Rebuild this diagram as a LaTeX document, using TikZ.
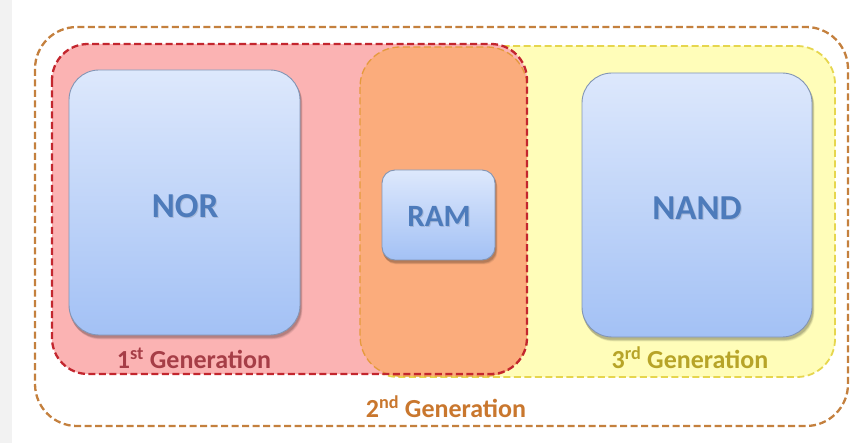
\documentclass[tikz,border=0pt]{standalone}
\usepackage{fontspec}
\setmainfont{Carlito}
\usetikzlibrary{calc}
\definecolor{outerline}{HTML}{C4803E}
\definecolor{firstfill}{HTML}{FBB3B3}
\definecolor{firstline}{HTML}{C3262E}
\definecolor{thirdfill}{HTML}{FFFDB9}
\definecolor{thirdline}{HTML}{E6D64E}
\definecolor{secondfill}{HTML}{FBAC7C}
\definecolor{secondline}{HTML}{E59A3C}
\definecolor{chiptop}{HTML}{DDE8FC}
\definecolor{chipbot}{HTML}{A3C1F5}
\definecolor{chipline}{HTML}{8295B5}
\definecolor{chiptext}{HTML}{4D7BBB}
\definecolor{firsttext}{HTML}{A63E47}
\definecolor{secondtext}{HTML}{C9772E}
\definecolor{thirdtext}{HTML}{B7A428}
\tikzset{
  genline/.style={dash pattern=on 7pt off 3.5pt, line width=2.3pt},
  chipbox/.style={rounded corners=#1, top color=chiptop, bottom color=chipbot,
    draw=chipline, line width=0.9pt},
  chipfont/.style={font=\bfseries\fontsize{#1}{#1}\selectfont},
  genlabel/.style={font=\bfseries\fontsize{26}{26}\selectfont}
}
% soft shadow under a chip: x1 y1 x2 y2 radius
\newcommand{\chipshadow}[5]{%
  \foreach \s/\o in {5/0.05,4/0.07,3/0.09,2/0.1}{
    \fill[black, opacity=\o, rounded corners=#5]
      ($(#1,#2)+(\s*0.4-0.5,\s*0.6+0.5)$) rectangle ($(#3,#4)+(\s*0.4+0.5,\s*0.6+1.5)$);
  }
}
% chip label with a faint dark halo
\newcommand{\chiplabel}[4]{% name, x, y, size/text
  \node[chipfont=#4, text=black, opacity=0.12] at ($(#2,#3)+(1,1.5)$) {#1};
  \node[chipfont=#4, text=chiptext] (#1) at (#2,#3) {#1};
}
\begin{document}
\begin{tikzpicture}[x=1pt,y=-1pt]
  \useasboundingbox (0,0) rectangle (858,443);
  \fill[white] (0,0) rectangle (858,443);
  \fill[black!5] (0,0) rectangle (12,443);

  % second generation frame around everything
  \draw[genline, outerline, rounded corners=42pt] (35,27) rectangle (848,426);

  % third generation region
  \fill[thirdfill, rounded corners=38pt] (360,46) rectangle (835,377);
  \draw[genline, thirdline, line width=1.8pt, rounded corners=38pt] (360,46) rectangle (835,377);

  % first generation region
  \fill[firstfill, rounded corners=36pt] (52,44) rectangle (527,374);

  % overlap: RAM region
  \fill[secondfill, rounded corners=40pt] (360,47) rectangle (527,376);
  \draw[genline, secondline, line width=1.3pt, rounded corners=40pt] (360,47) rectangle (527,376);

  \draw[genline, firstline, rounded corners=36pt] (52,44) rectangle (527,374);

  % memory chips
  \chipshadow{69}{70}{300}{335}{30pt}
  \chipshadow{582}{73}{812}{337}{30pt}
  \chipshadow{382}{170}{495}{260}{13pt}
  \draw[chipbox=30pt] (69,70) rectangle (300,335);
  \draw[chipbox=30pt] (582,73) rectangle (812,337);
  \draw[chipbox=13pt] (382,170) rectangle (495,260);

  \chiplabel{NOR}{185}{206}{35}
  \chiplabel{NAND}{697}{208}{35}
  \chiplabel{RAM}{439}{216}{31}

  % generation captions
  \node[genlabel, text=firsttext] (g1) at (194,358) {1\textsuperscript{st} Generation};
  \node[genlabel, text=thirdtext] (g3) at (690,358) {3\textsuperscript{rd} Generation};
  \node[genlabel, text=secondtext] (g2) at (446,407) {2\textsuperscript{nd} Generation};
\end{tikzpicture}
\end{document}
